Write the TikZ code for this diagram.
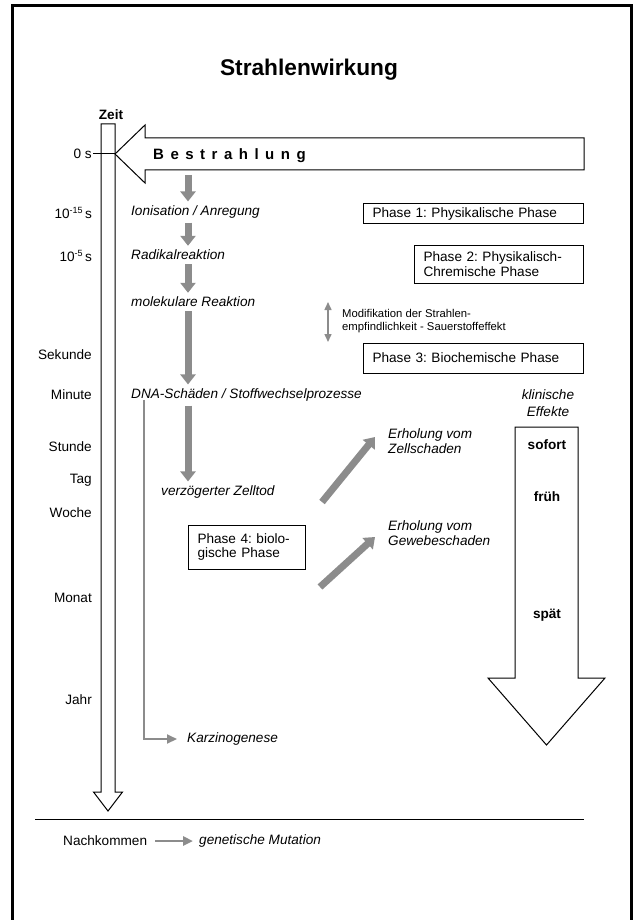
\documentclass[tikz,border=0pt]{standalone}
\usepackage{fontspec}
\setmainfont{Liberation Sans}
\usetikzlibrary{calc,arrows.meta}
\definecolor{pgrau}{RGB}{140,140,140}
\tikzset{
  txt/.style={inner sep=0pt, font=\fontsize{13.6}{15}\selectfont},
  zeitlab/.style={txt, anchor=east},
  proz/.style={txt, font=\fontsize{13.6}{15}\selectfont\itshape, anchor=west, inner ysep=4pt},
  fett/.style={txt, font=\fontsize{13.6}{15}\selectfont\bfseries},
  phase/.style={draw, line width=1pt, txt, font=\fontsize{13.6}{14.5}\selectfont, inner xsep=9pt, align=left, anchor=west},
  umriss/.style={draw, line width=1pt, fill=white},
  pfeil/.style={pgrau, line width=7pt, -{Triangle[width=15pt,length=10pt]}},
  duenn/.style={pgrau, line width=2pt, -{Triangle[width=9pt,length=10pt]}},
}
\newcommand{\ls}{\hspace{6.5pt}}
\newcommand{\hoch}[1]{\raisebox{5pt}{\fontsize{9}{9}\selectfont #1}}
\frenchspacing

\begin{document}
\begin{tikzpicture}[x=1pt,y=-1pt]
\useasboundingbox (0,0) rectangle (637,920);
\draw[line width=3pt] (12,925) -- (12,6) -- (631,6) -- (631,925);
\node[txt, font=\fontsize{22.7}{26}\selectfont\bfseries] (titel) at (309,70) {Strahlenwirkung};
\node[fett] (zeit) at (111,115) {Zeit};
% Zeitachse
\draw[umriss] (101,124) -- (115,124) -- (115,792) -- (122.5,792) -- (108,811) -- (93.5,792) -- (101,792) -- cycle;
% Bestrahlung
\coordinate (spitze) at (115,154);
\draw[umriss] (spitze) -- (145,125) -- (145,138) -- (584,138) -- (584,170) -- (145,170) -- (145,183) -- cycle;
\node[txt, anchor=west, font=\fontsize{15}{18}\selectfont\bfseries] (bestr) at (153,156)
  {B\ls e\ls s\ls t\ls r\ls a\ls h\ls l\ls u\ls n\ls g};
\foreach \n/\y/\t in {t0/154/{0 s}, t15/213/{10\hoch{-15}\,s}, t5/256/{10\hoch{-5}\,s},
  sek/355/Sekunde, min/395/Minute, std/447/Stunde, tag/480/Tag, wo/513/Woche,
  mon/598/Monat, jahr/700/Jahr}
  \node[zeitlab] (\n) at (92,\y) {\t};
\draw[line width=1pt] ([xshift=1pt]t0.east) -- (spitze);
% Prozesse
\node[proz] (ion) at (131,212) {Ionisation / Anregung};
\node[proz] (rad) at (131,255) {Radikalreaktion};
\node[proz] (mol) at (131,302) {molekulare Reaktion};
\node[proz] (dna) at (131,395) {DNA-Schäden / Stoffwechselprozesse};
\node[proz] (tod) at (161,492) {verzögerter Zelltod};
\node[proz] (karz) at (187,739) {Karzinogenese};
\coordinate (px) at (188,175);
\draw[pfeil] (px) -- (ion.north -| px);
\foreach \a/\b in {ion/rad, rad/mol, mol/dna, dna/tod}
  \draw[pfeil] (\a.south -| px) -- (\b.north -| px);
\coordinate (lx) at (144,0);
\draw[duenn] ($(dna.south -| lx)+(0,-6)$) |- ([xshift=-10pt]karz.west);
% Phasen
\node[phase, text width=202pt, minimum height=20pt] (ph1) at (363,213.5) {Phase 1: Physikalische Phase};
\node[phase, text width=151pt, minimum height=38pt] (ph2) at (414,264) {Phase 2: Physikalisch-\\Chremische Phase};
\node[phase, text width=202pt, minimum height=30pt] (ph3) at (363,358) {Phase 3: Biochemische Phase};
\node[phase, text width=99pt, minimum height=44pt] (ph4) at (188,547) {Phase 4: biolo-\\gische Phase};
\node[txt, anchor=west, align=left, font=\fontsize{11.3}{13}\selectfont] (mod) at (342,321)
  {Modifikation der Strahlen-\\empfindlichkeit - Sauerstoffeffekt};
\coordinate (m1) at (328,302);
\coordinate (m2) at (328,342);
\draw[pgrau, line width=1.5pt, {Triangle[width=7pt,length=8pt]}-{Triangle[width=7pt,length=8pt]}] (m1) -- (m2);
% klinische Effekte
\node[txt, font=\fontsize{13.6}{16.5}\selectfont\itshape, align=center] (klin) at (548,403) {klinische\\Effekte};
\draw[umriss] (515,427) -- (578,427) -- (578,678) -- (605,678) -- (546.5,745) -- (488,678) -- (515,678) -- cycle;
\foreach \n/\y/\t in {sofort/445/sofort, frueh/497/früh, spaet/615/spät}
  \node[fett] (\n) at (547,\y) {\t};
% Erholung
\node[proz, align=left, font=\fontsize{13.6}{14.5}\selectfont\itshape] (erh1) at (388,441) {Erholung vom\\Zellschaden};
\node[proz, align=left, font=\fontsize{13.6}{15.5}\selectfont\itshape] (erh2) at (388,533) {Erholung vom\\Gewebeschaden};
\coordinate (d1) at (322,502);
\coordinate (d2) at (320,587);
\draw[pfeil] (d1) -- ([xshift=-13pt,yshift=4pt]erh1.west);
\draw[pfeil] (d2) -- ([xshift=-13pt,yshift=-4pt]erh2.west);
% Nachkommen
\coordinate (l1) at (35,819);
\coordinate (l2) at (584,819);
\draw[line width=1pt] (l1) -- (l2);
\node[txt, anchor=west] (nach) at (63,841) {Nachkommen};
\node[proz] (gen) at (199,841) {genetische Mutation};
\draw[pgrau, line width=2.5pt, -{Triangle[width=9pt,length=10pt]}] ([xshift=8pt]nach.east) -- ([xshift=-6pt]gen.west);
\end{tikzpicture}
\end{document}
